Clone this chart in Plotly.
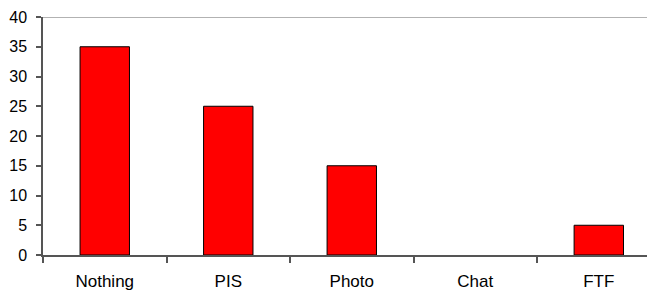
import plotly.graph_objects as go

categories = ["Nothing", "PIS", "Photo", "Chat", "FTF"]
values = [35, 25, 15, 0, 5]
y_ticks = [0, 5, 10, 15, 20, 25, 30, 35, 40]

outline_widths = [1 if v > 0 else 0 for v in values]

fig = go.Figure()
fig.add_trace(go.Bar(
    x=categories, y=values,
    marker=dict(color="#FF0000", line=dict(color="#000000", width=outline_widths)),
))
fig.update_layout(
    width=647, height=283,
    margin=dict(l=35, r=0, t=9, b=36),
    paper_bgcolor="white", plot_bgcolor="white",
    bargap=0.6, showlegend=False,
    font=dict(family="Liberation Sans, Arial", size=16, color="#000000"),
)
fig.update_xaxes(
    range=[-0.5, 4.455], showline=True, linecolor="#555555", linewidth=1.5,
    ticks="outside", tickson="boundaries", ticklen=6, tickcolor="#555555", tickwidth=1.5,
    showgrid=False, zeroline=False, ticklabelstandoff=10,
    tickfont=dict(size=17),
)
fig.update_yaxes(
    range=[0, 40], tickvals=y_ticks, showline=True, linecolor="#555555", linewidth=1.5,
    ticks="outside", ticklen=5, tickcolor="#555555", tickwidth=1.5,
    showgrid=False, zeroline=False, ticklabelstandoff=6,
)
fig.add_shape(type="line", xref="paper", yref="y", x0=0, x1=1, y0=40, y1=40,
              line=dict(color="#999999", width=1.5))
fig.write_html("out.html")
